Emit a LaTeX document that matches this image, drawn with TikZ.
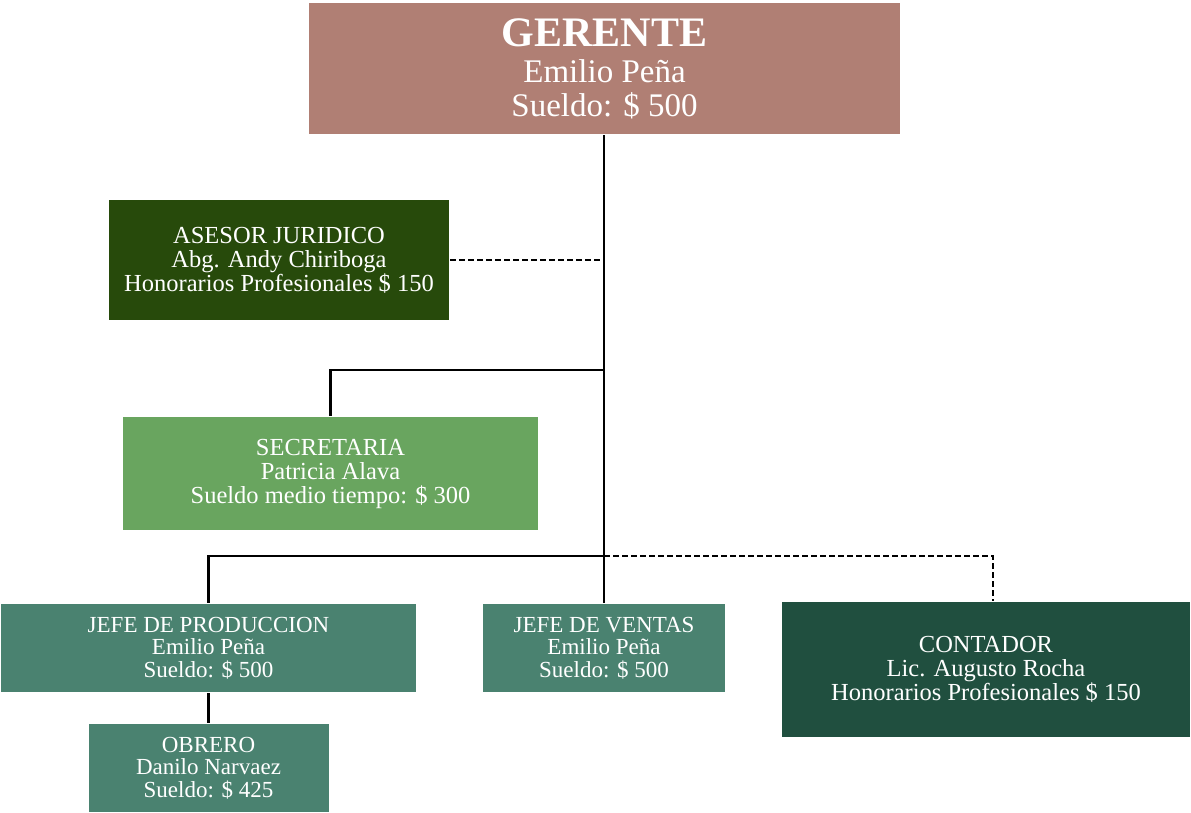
\documentclass[tikz,border=0pt]{standalone}
\usepackage{fontspec}
\setmainfont{Liberation Serif}
\usetikzlibrary{calc}

\definecolor{gercol}{HTML}{B07F74}
\definecolor{asecol}{HTML}{274A0B}
\definecolor{seccol}{HTML}{69A55F}
\definecolor{jefcol}{HTML}{4A8270}
\definecolor{concol}{HTML}{204F3F}

\begin{document}
\begin{tikzpicture}[
  x=1pt, y=-1pt,
  line width=2.2pt,
  box/.style={fill=#1, text=white, align=center, inner sep=0pt,
    font=\fontsize{23}{22.5}\selectfont},
  bigtext/.style={font=\fontsize{24.5}{24}\selectfont},
  dashline/.style={dash pattern=on 6pt off 3pt},
]
  \useasboundingbox (0,0) rectangle (1191,812);

  % cajas
  \node[box=gercol, minimum width=591pt, minimum height=131pt,
    font=\fontsize{33}{34}\selectfont] (GER) at (604.5,68.5)
    {{\fontsize{42}{40}\selectfont\bfseries GERENTE}\\[2pt]Emilio Peña\\Sueldo: \$ 500};
  \node[box=asecol, bigtext, minimum width=340pt, minimum height=120pt] (ASE) at (279,260)
    {ASESOR JURIDICO\\Abg. Andy Chiriboga\\Honorarios Profesionales \$ 150};
  \node[box=seccol, bigtext, minimum width=415pt, minimum height=113pt] (SEC) at (330.5,473.5)
    {SECRETARIA\\Patricia Alava\\Sueldo medio tiempo: \$ 300};
  \node[box=jefcol, minimum width=415pt, minimum height=88pt] (JP) at (208.5,648)
    {JEFE DE PRODUCCION\\Emilio Peña\\Sueldo: \$ 500};
  \node[box=jefcol, minimum width=242pt, minimum height=88pt] (JV) at (604,648)
    {JEFE DE VENTAS\\Emilio Peña\\Sueldo: \$ 500};
  \node[box=jefcol, minimum width=240pt, minimum height=88pt] (OBR) at (208.5,768)
    {OBRERO\\Danilo Narvaez\\Sueldo: \$ 425};
  \node[box=concol, bigtext, minimum width=408pt, minimum height=135pt] (CON) at (986,669.5)
    {CONTADOR\\Lic. Augusto Rocha\\Honorarios Profesionales \$ 150};

  % puntos del tronco
  \coordinate (T2) at (604,370);
  \coordinate (T3) at (604,556);
  \coordinate (C1) at (993,556);

  % lineas
  \draw (GER.south -| T3) -- (T3);
  \draw[dashline] (ASE.east) -- (ASE.east -| T3);
  \draw (T2) -| (SEC.north);
  \draw (T3) -| (JP.north);
  \draw (T3) -- (JV.north);
  \draw[dashline] (T3) -- (C1) -- (C1 |- CON.north);
  \draw (JP.south) -- (OBR.north);
\end{tikzpicture}
\end{document}
